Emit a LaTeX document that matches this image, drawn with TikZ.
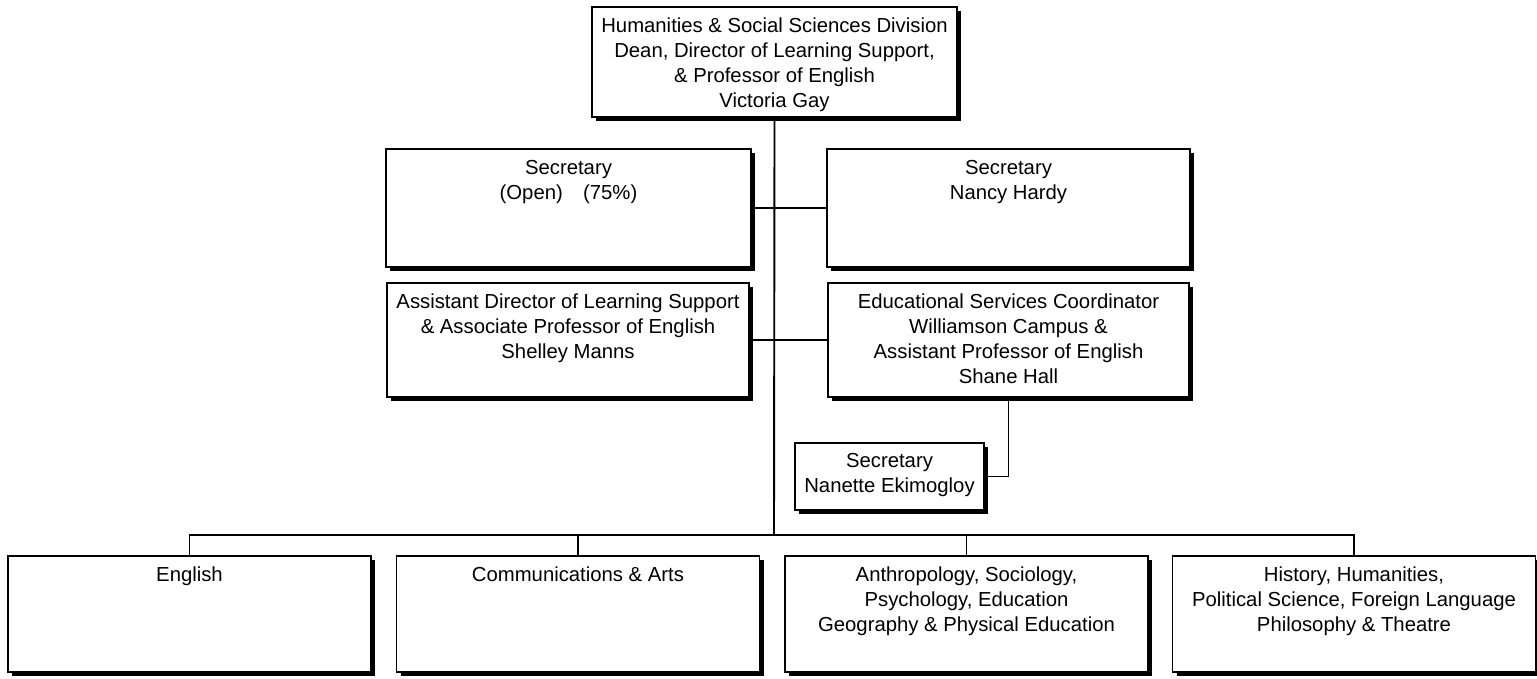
\documentclass[tikz,border=0pt]{standalone}
\usepackage{fontspec}
\setmainfont{Liberation Sans}
\usetikzlibrary{shadows}
\begin{document}
\begin{tikzpicture}[x=1pt,y=-1pt,
  box/.style={draw, line width=1.9pt, fill=white, inner sep=0pt,
    drop shadow={shadow xshift=4pt, shadow yshift=-4pt, opacity=1, fill=black}},
  txt/.style={anchor=north, yshift=-12pt, inner sep=0pt, align=center,
    font=\fontsize{20.3}{25}\selectfont},
  conn/.style={line width=1.9pt}]
\useasboundingbox (0,0) rectangle (1537,678);
% boxes
\node[box, minimum width=365pt, minimum height=110pt, label={[txt]north:Humanities \& Social Sciences Division\\Dean, Director of Learning Support,\\\& Professor of English\\Victoria Gay}] (top) at (774.5,62) {};
\node[box, minimum width=365pt, minimum height=118pt, label={[txt]north:Secretary\\(Open)\quad(75\%)}] (sec1) at (568.5,208) {};
\node[box, minimum width=363pt, minimum height=118pt, label={[txt]north:Secretary\\Nancy Hardy}] (sec2) at (1008.5,208) {};
\node[box, minimum width=362pt, minimum height=114pt, label={[txt]north:Assistant Director of Learning Support\\\& Associate Professor of English\\Shelley Manns}] (asst) at (568,340) {};
\node[box, minimum width=361pt, minimum height=114pt, label={[txt]north:Educational Services Coordinator\\Williamson Campus \&\\Assistant Professor of English\\Shane Hall}] (edu) at (1008.5,340) {};
\node[box, minimum width=189pt, minimum height=67pt, label={[txt,yshift=1pt]north:Secretary\\Nanette Ekimogloy}] (nan) at (889.5,476.5) {};
\node[box, minimum width=363pt, minimum height=116pt, label={[txt]north:English}] (eng) at (189.5,614) {};
\node[box, minimum width=363pt, minimum height=116pt, label={[txt]north:Communications \& Arts}] (comm) at (578,614) {};
\node[box, minimum width=363pt, minimum height=116pt, label={[txt]north:Anthropology, Sociology,\\Psychology, Education\\Geography \& Physical Education}] (anth) at (966.5,614) {};
\node[box, minimum width=363pt, minimum height=116pt, label={[txt]north:History, Humanities,\\Political Science, Foreign Language\\Philosophy \& Theatre}] (hist) at (1354,614) {};
% connectors
\coordinate (bus) at (774,535);
\draw[conn] (top.south) -- (bus);
\draw[conn] (sec1.east) -- (sec2.west);
\draw[conn] (asst.east) -- (edu.west);
\draw[conn] (edu.south) |- (nan.east);
\draw[conn] (eng.north) -- (eng.north |- bus) -- (hist.north |- bus) -- (hist.north);
\draw[conn] (comm.north) -- (comm.north |- bus);
\draw[conn] (anth.north) -- (anth.north |- bus);
\end{tikzpicture}
\end{document}
